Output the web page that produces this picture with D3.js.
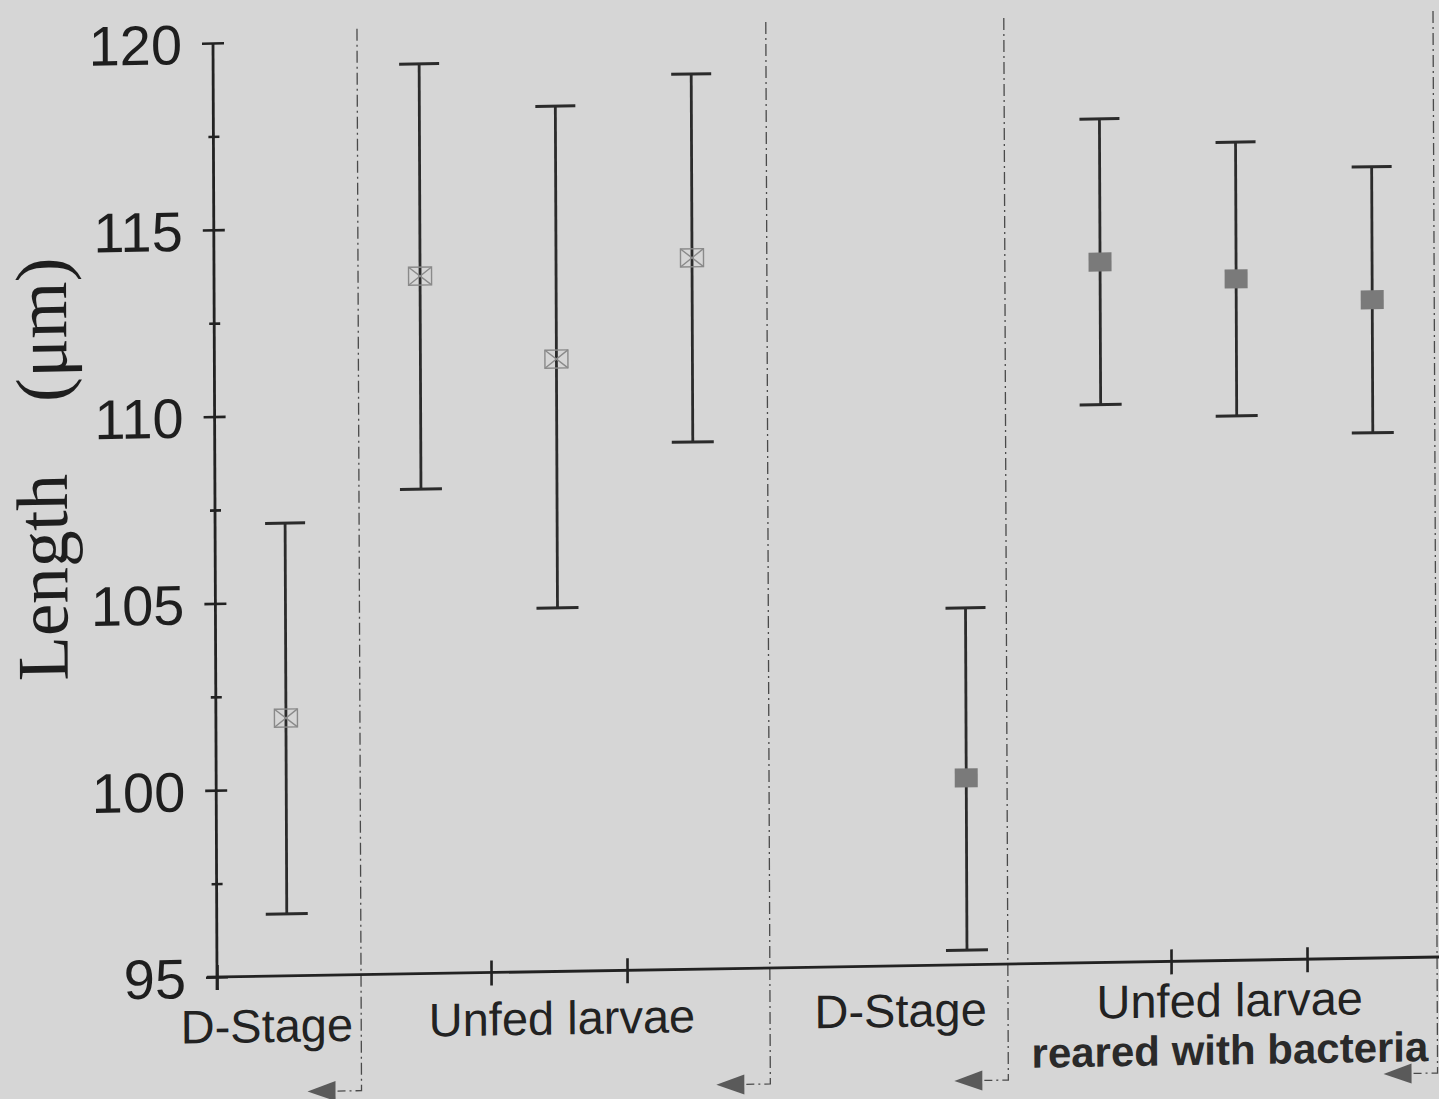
<!DOCTYPE html>
<html>
<head>
<meta charset="utf-8">
<script src="https://cdn.jsdelivr.net/npm/d3@7"></script>
<style>
  html, body { margin: 0; padding: 0; background: #d6d6d6; }
  svg { display: block; }
</style>
</head>
<body>
<script>
// data
var groupLabels = ["D-Stage", "Unfed larvae", "D-Stage", "Unfed larvae"];
var groupPos = [-0.15, 2.02, 4.51, 6.93];
var subLabel = "reared with bacteria";

var positions = [0, 1, 2, 3, 5, 6, 7, 8];
var means = [101.9, 113.67, 111.39, 114.04, 100.0, 113.75, 113.24, 112.62];
var lows  = [96.66, 107.97, 104.73, 109.11, 95.39, 109.93, 109.57, 109.06];
var highs = [107.12, 119.35, 118.16, 118.96, 104.55, 117.58, 116.90, 116.18];
var markers = ["cross", "cross", "cross", "cross", "fill", "fill", "fill", "fill"];

var yMajor = [95, 100, 105, 110, 115, 120];
var yMinor = [97.5, 102.5, 107.5, 112.5, 117.5];
var xTicks = [-0.515, 1.5, 2.5, 6.5, 7.5];
var separators = [0.544, 3.55, 5.30, 8.456];

//positioning/sizing
var W = 1439, H = 1099,
    plot_dx = 1224,
    plot_dy = 934,
    skewX = -0.01637, skewY = 0.00428;   // scan is slightly tilted
var labelDy = [66, 63, 61, 56];

var x = d3.scaleLinear().domain([-0.515, 8.485]).range([0, plot_dx]),
    y = d3.scaleLinear().domain([95, 120]).range([0, -plot_dy]);

var svg = d3.select("body").append("svg")
    .attr("width", W)
    .attr("height", H);

svg.append("rect").attr("width", W).attr("height", H).attr("fill", "#d6d6d6");

var g = svg.append("g")
    .attr("transform", "translate(217,977) matrix(1," + skewX + "," + skewY + ",1,0,0)");

// separators with arrows
var sep = g.append("g").attr("class", "separators");
separators.forEach(function(s) {
  var sx = x(s);
  sep.append("path")
     .attr("d", "M" + sx + "," + (-946) + "V" + 116 + "H" + (sx - 24))
     .attr("fill", "none")
     .attr("stroke", "#4a4a4a")
     .attr("stroke-width", 1.3)
     .attr("stroke-dasharray", "12,4,2,4");
  sep.append("path")
     .attr("d", "M" + (sx - 54) + ",116 L" + (sx - 26) + ",106 L" + (sx - 26) + ",126 Z")
     .attr("fill", "#5a5a5a");
});

// axes
var axis_y = d3.axisLeft(y).tickValues(yMajor).tickSize(11).tickPadding(20);
var gy = g.append("g").attr("id", "axis_y").call(axis_y);
gy.select(".domain").remove();
gy.selectAll(".tick line").attr("x1", 11).attr("stroke", "#222").attr("stroke-width", 2.6);
gy.selectAll(".tick text")
  .attr("font-family", "'Liberation Sans', Arial, sans-serif")
  .attr("font-size", 56)
  .attr("fill", "#1e1e1e")
  .attr("dy", "0.36em");

var gyMinor = g.append("g").call(d3.axisLeft(y).tickValues(yMinor).tickSize(5).tickFormat(""));
gyMinor.select(".domain").remove();
gyMinor.selectAll(".tick line").attr("x1", 6).attr("stroke", "#222").attr("stroke-width", 2.6);

var axis_x = d3.axisBottom(x).tickValues(xTicks).tickSize(13).tickFormat("");
var gx = g.append("g").attr("id", "axis_x").call(axis_x);
gx.select(".domain").remove();
gx.selectAll(".tick line").attr("y1", -12).attr("stroke", "#222").attr("stroke-width", 2.6);

g.append("line")
 .attr("x1", 0).attr("x2", 0).attr("y1", 13).attr("y2", y(120))
 .attr("stroke", "#222").attr("stroke-width", 2.8);
g.append("line")
 .attr("x1", -10).attr("x2", plot_dx + 10).attr("y1", 0).attr("y2", 0)
 .attr("stroke", "#222").attr("stroke-width", 2.8);

// group labels
g.selectAll(".glabel")
 .data(groupLabels)
 .enter()
 .append("text")
 .attr("class", "glabel")
 .attr("x", (d, i) => x(groupPos[i]))
 .attr("y", (d, i) => labelDy[i])
 .attr("text-anchor", "middle")
 .attr("font-family", "'Liberation Sans', Arial, sans-serif")
 .attr("font-size", 47)
 .attr("fill", "#222")
 .text(d => d);

g.append("text")
 .attr("x", x(groupPos[3]))
 .attr("y", 104)
 .attr("text-anchor", "middle")
 .attr("font-family", "'Liberation Sans', Arial, sans-serif")
 .attr("font-weight", "bold")
 .attr("font-size", 42)
 .attr("fill", "#2a2a2a")
 .text(subLabel);

// y title
var title = g.append("text")
 .attr("transform", "translate(-148,-299) rotate(-90)")
 .attr("font-family", "'Liberation Serif', 'Times New Roman', serif")
 .attr("font-size", 73)
 .attr("fill", "#1e1e1e");
title.append("tspan").text("Length");
title.append("tspan").attr("dx", 72).text("(μm)");

// error bars
var bars = g.append("g").selectAll("g")
  .data(positions)
  .enter()
  .append("g");

bars.append("line")
  .attr("x1", d => x(d)).attr("x2", d => x(d))
  .attr("y1", (d, i) => y(lows[i])).attr("y2", (d, i) => y(highs[i]))
  .attr("stroke", "#2b2b2b").attr("stroke-width", 2.8);
bars.append("line")
  .attr("x1", d => x(d) - 20).attr("x2", d => x(d) + 20)
  .attr("y1", (d, i) => y(highs[i])).attr("y2", (d, i) => y(highs[i]))
  .attr("stroke", "#2b2b2b").attr("stroke-width", 3);
bars.append("line")
  .attr("x1", d => x(d) - 21).attr("x2", d => x(d) + 21)
  .attr("y1", (d, i) => y(lows[i])).attr("y2", (d, i) => y(lows[i]))
  .attr("stroke", "#2b2b2b").attr("stroke-width", 3);

// markers
bars.filter((d, i) => markers[i] == "fill")
  .append("rect")
  .attr("x", d => x(d) - 11.5)
  .attr("y", d => y(means[positions.indexOf(d)]) - 9.5)
  .attr("width", 23).attr("height", 19)
  .attr("fill", "#7a7a7a");

var crosses = bars.filter((d, i) => markers[i] == "cross");
crosses.append("rect")
  .attr("x", d => x(d) - 11.5)
  .attr("y", d => y(means[positions.indexOf(d)]) - 9)
  .attr("width", 23).attr("height", 18)
  .attr("fill", "none").attr("stroke", "#8a8a8a").attr("stroke-width", 1.4);
crosses.append("path")
  .attr("d", function(d) {
    var cx = x(d), cy = y(means[positions.indexOf(d)]);
    return "M" + (cx - 11.5) + "," + (cy - 9) + "L" + (cx + 11.5) + "," + (cy + 9) +
           "M" + (cx + 11.5) + "," + (cy - 9) + "L" + (cx - 11.5) + "," + (cy + 9);
  })
  .attr("fill", "none").attr("stroke", "#8a8a8a").attr("stroke-width", 1.4);
</script>
</body>
</html>
